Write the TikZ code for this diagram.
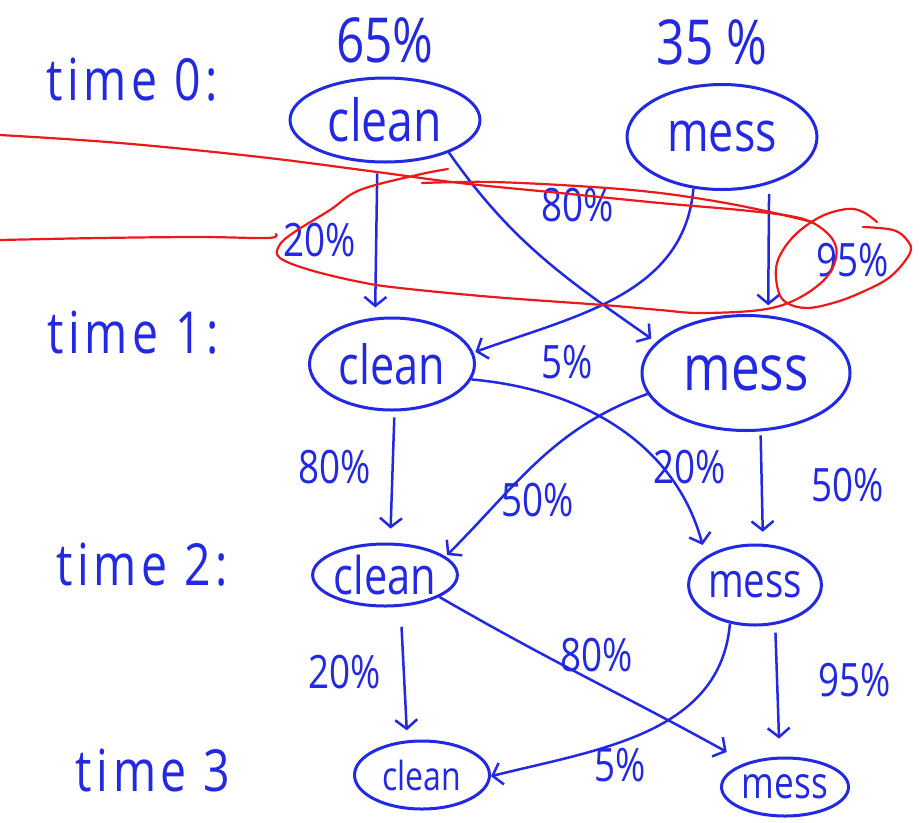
\documentclass[tikz,border=0pt]{standalone}
\usepackage{fontspec}
\setmainfont[FakeStretch=0.8]{Open Sans}
\usetikzlibrary{shapes.geometric,arrows.meta}
\definecolor{ink}{RGB}{35,40,225}
\definecolor{pen}{RGB}{235,25,25}
\begin{document}
\begin{tikzpicture}[x=1pt,y=-1pt,
  state/.style={ellipse,draw=ink,line width=3pt,inner sep=0pt,text=ink},
  link/.style={draw=ink,line width=2.5pt,-{Straight Barb[length=9pt,width=22pt,line width=2.5pt]}},
  pct/.style={text=ink,font=\fontsize{46}{46}\selectfont},
  when/.style={text=ink,font=\fontsize{58}{58}\selectfont\addfontfeature{LetterSpace=8}},
  loopline/.style={draw=pen,line width=2.2pt,line cap=round,line join=round}]
\fill[white] (0,0) rectangle (920,822);
\useasboundingbox (0,0) rectangle (920,822);

% row labels
\node[when] (t0) at (132,80) {time 0:};
\node[when] (t1) at (133,333) {time 1:};
\node[when] (t2) at (142,565) {time 2:};
\node[when] (t3) at (153,770) {time 3};

% initial shares
\node[text=ink,font=\fontsize{62}{62}\selectfont] (p0) at (385,40) {65\%};
\node[text=ink,font=\fontsize{62}{62}\selectfont] (q0) at (712,42) {35 \%};

% states
\node[state,minimum width=190pt,minimum height=84pt,font=\fontsize{58}{58}\selectfont] (c0) at (385,120) {clean};
\node[state,minimum width=190pt,minimum height=105pt,font=\fontsize{56}{56}\selectfont] (m0) at (722,137) {mess};
\node[state,minimum width=165pt,minimum height=92pt,font=\fontsize{54}{54}\selectfont] (c1) at (392,364) {clean};
\node[state,minimum width=208pt,minimum height=115pt,font=\fontsize{64}{64}\selectfont] (m1) at (746,373) {mess};
\node[state,minimum width=140pt,minimum height=62pt,font=\fontsize{52}{52}\selectfont] (c2) at (385,575) {clean};
\node[state,minimum width=115pt,minimum height=80pt,font=\fontsize{48}{48}\selectfont] (m2) at (755,585) {mess};
\node[state,minimum width=135pt,minimum height=68pt,font=\fontsize{40}{40}\selectfont] (c3) at (422,775) {clean};
\node[state,minimum width=127pt,minimum height=58pt,font=\fontsize{44}{44}\selectfont] (m3) at (785,787) {mess};

% transitions 0 -> 1
\draw[link,shorten <=10pt,shorten >=10pt] (c0.260) -- (c1.110);
\draw[link,shorten >=6pt] (c0.-27) to[out=-55,in=145] (m1.161);
\draw[link,shorten >=2pt] (m0.241) to[out=-95,in=20] (c1.8);
\draw[link,shorten <=10pt,shorten >=10pt] (m0.-45) -- (m1.69);
\node[pct] (l1) at (320,240) {20\%};
\node[pct] (l2) at (578,205) {80\%};
\node[pct] (l3) at (567,362) {5\%};
\node[pct] (l4) at (853,260) {95\%};

% transitions 1 -> 2
\draw[link,shorten <=6pt,shorten >=14pt] (c1.-87) -- (c2.81);
\draw[link,shorten >=12pt] (c1.-11) to[out=-5,in=105] (m2.150);
\draw[link,shorten >=2pt] (m1.192) to[out=200,in=45] (c2.17);
\draw[link,shorten <=4pt,shorten >=12pt] (m1.-76) -- (m2.79);
\node[pct] (l5) at (335,467) {80\%};
\node[pct] (l6) at (690,467) {20\%};
\node[pct] (l7) at (538,500) {50\%};
\node[pct] (l8) at (848,485) {50\%};

% transitions 2 -> 3
\draw[link,shorten <=20pt,shorten >=10pt] (c2.-64) -- (c3.113);
\draw[link,shorten >=22pt] (c2.-22) to[out=-30,in=151] (m3.148);
\draw[link,shorten >=0pt] (m2.237) to[out=-95,in=14] (c3.-1);
\draw[link,shorten <=8pt,shorten >=18pt] (m2.-63) -- (m3.100);
\node[pct] (l9) at (345,672) {20\%};
\node[pct] (l10) at (597,655) {80\%};
\node[pct] (l11) at (620,765) {5\%};
\node[pct] (l12) at (855,680) {95\%};

% red markup over the first step
\draw[loopline] plot[smooth,tension=0.6] coordinates {
  (0,135) (120,143) (260,157) (377,172) (460,183) (560,193) (660,203)
  (740,210) (790,216) (815,224) (833,240) (836,258) (824,280) (795,300)
  (760,310) (700,313) (660,310) (603,305) (493,297) (400,288) (360,282)
  (310,270) (280,258) (279,246) (293,233) (330,210) (360,190) (417,175) (448,169)};
\draw[loopline] plot[smooth,tension=0.6] coordinates {
  (422,183) (493,182) (593,187) (660,193) (720,202) (770,212) (812,222)};
\draw[loopline] plot[smooth,tension=0.6] coordinates {
  (0,240) (100,238) (200,237) (268,238) (276,234)};
\draw[loopline] plot[smooth,tension=0.6] coordinates {
  (877,222) (863,212) (847,209) (820,217) (793,237) (777,263) (778,290)
  (787,303) (807,308) (833,303) (860,293) (890,277) (910,253) (907,240)
  (893,230) (863,227)};
\end{tikzpicture}
\end{document}
